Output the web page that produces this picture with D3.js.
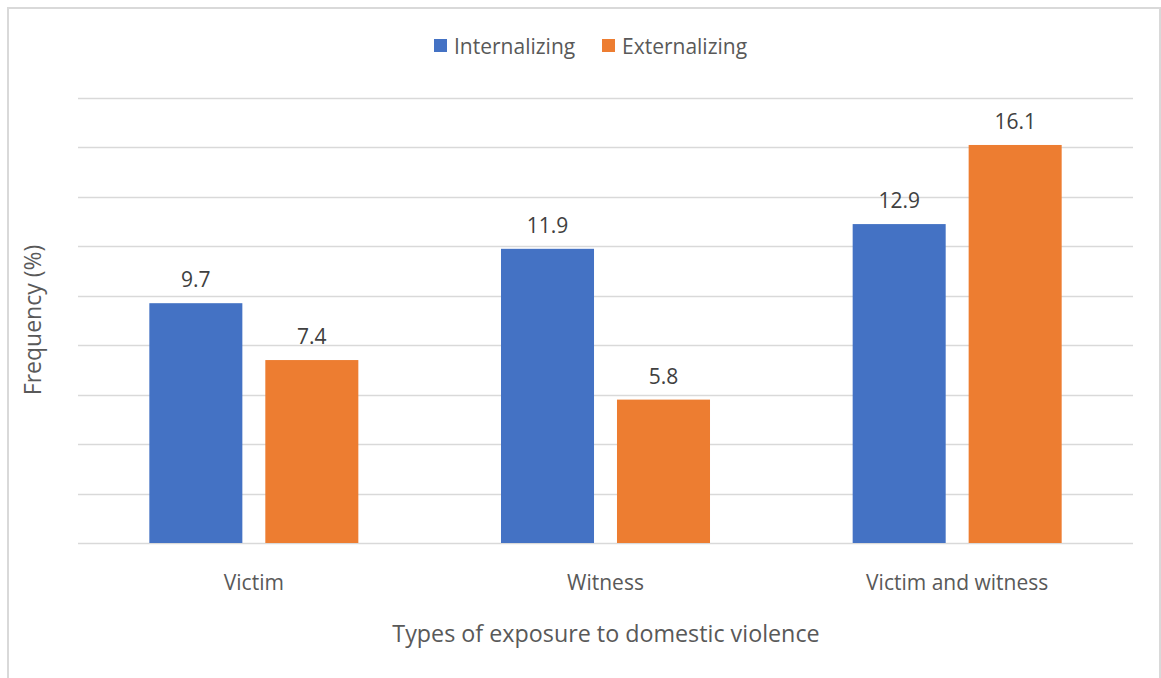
<!DOCTYPE html>
<html><head><meta charset="utf-8">
<script src="https://cdn.jsdelivr.net/npm/d3@7"></script>
<style>body{margin:0;background:#fff}svg{display:block}</style>
</head><body>
<script>
const categories = ["Victim", "Witness", "Victim and witness"];
const seriesNames = ["Internalizing", "Externalizing"];
const internalizing = [9.7, 11.9, 12.9];
const externalizing = [7.4, 5.8, 16.1];
const yTicks = [0, 2, 4, 6, 8, 10, 12, 14, 16, 18];
const colors = ["#4472C4", "#ED7D31"];

(function () {
const W = 1161, H = 678;
const svg = d3.select("body").append("svg").attr("width", W).attr("height", H);
const font = "'Open Sans', sans-serif";

svg.append("rect").attr("x", 8).attr("y", 8).attr("width", 1152).attr("height", 680)
  .attr("fill", "#fff").attr("stroke", "#d9d9d9").attr("stroke-width", 2);

const pL = 78, pR = 1133, pT = 98, pB = 543;
const x0 = d3.scaleBand().domain(categories).range([pL, pR]).paddingInner(0).paddingOuter(0);
const x1 = d3.scaleBand().domain(seriesNames).range([0, x0.bandwidth()]).paddingInner(0.198).paddingOuter(0.615);
const y = d3.scaleLinear().domain([0, 18]).range([pB, pT]);

svg.append("g").selectAll("line").data(yTicks).join("line")
  .attr("x1", pL).attr("x2", pR)
  .attr("y1", d => Math.round(y(d)) + 0.5).attr("y2", d => Math.round(y(d)) + 0.5)
  .attr("stroke", "#d9d9d9").attr("stroke-width", 1.5);

const data = categories.map((c, i) => ({cat: c, vals: [
  {s: seriesNames[0], v: internalizing[i], c: colors[0]},
  {s: seriesNames[1], v: externalizing[i], c: colors[1]}]}));

const g = svg.append("g").selectAll("g").data(data).join("g")
  .attr("transform", d => `translate(${x0(d.cat)},0)`);
g.selectAll("rect").data(d => d.vals).join("rect")
  .attr("x", d => x1(d.s)).attr("width", x1.bandwidth())
  .attr("y", d => y(d.v)).attr("height", d => y(0) - y(d.v))
  .attr("fill", d => d.c);
g.selectAll("text").data(d => d.vals).join("text")
  .attr("x", d => x1(d.s) + x1.bandwidth() / 2)
  .attr("y", d => y(d.v) - 16)
  .attr("text-anchor", "middle").attr("font-family", font).attr("font-size", 21)
  .attr("fill", "#404040").text(d => d.v.toFixed(1));

svg.append("g").selectAll("text").data(categories).join("text")
  .attr("x", d => x0(d) + x0.bandwidth() / 2).attr("y", 590)
  .attr("text-anchor", "middle").attr("font-family", font).attr("font-size", 21)
  .attr("fill", "#595959").text(d => d);

svg.append("text").attr("x", 606).attr("y", 642)
  .attr("text-anchor", "middle").attr("font-family", font).attr("font-size", 23.3)
  .attr("fill", "#595959").text("Types of exposure to domestic violence");

svg.append("text").attr("transform", "translate(41,320) rotate(-90)")
  .attr("text-anchor", "middle").attr("font-family", font).attr("font-size", 23)
  .attr("fill", "#595959").text("Frequency (%)");

const legX = [434, 602];
const leg = svg.append("g").selectAll("g").data(seriesNames).join("g")
  .attr("transform", (d, i) => `translate(${legX[i]},39)`);
leg.append("rect").attr("width", 13).attr("height", 13).attr("fill", (d, i) => colors[i]);
leg.append("text").attr("x", 20).attr("y", 15).attr("font-family", font).attr("font-size", 21)
  .attr("fill", "#595959").text(d => d);
})();
</script>
</body></html>
